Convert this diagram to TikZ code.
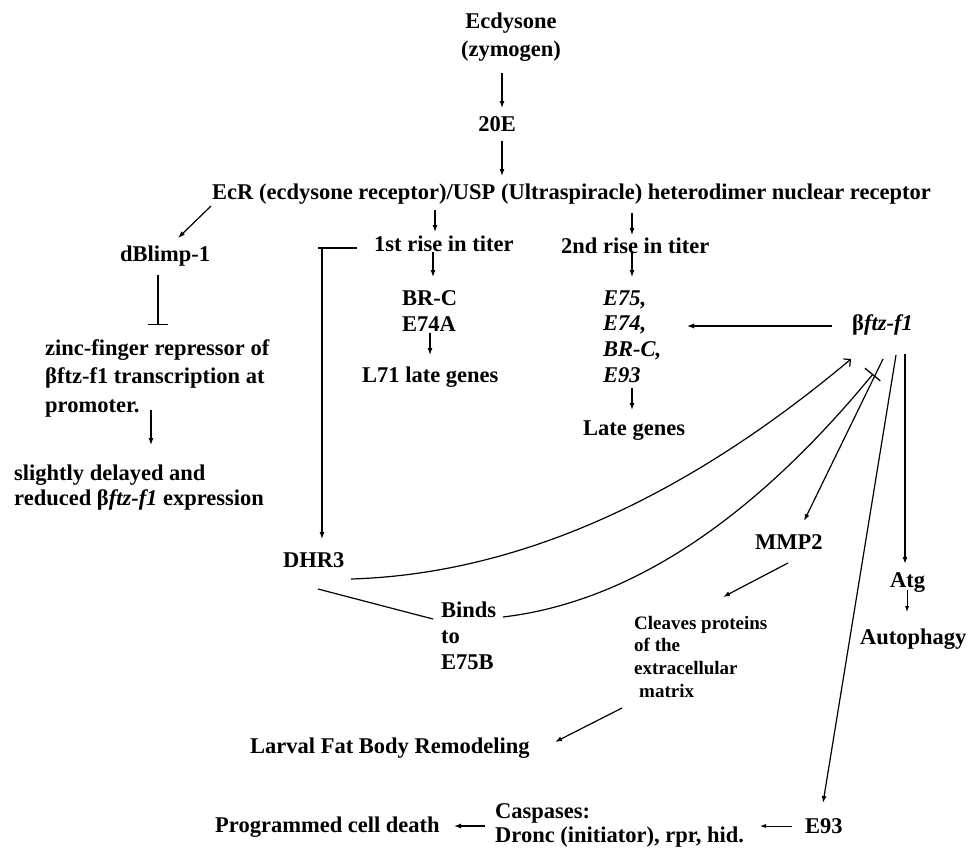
\documentclass[tikz,border=0pt]{standalone}
\usepackage{fontspec}
\setmainfont{Liberation Serif}
\usetikzlibrary{arrows.meta,calc}
\newcommand\tstrut{\rule{0pt}{16.5pt}}
\newcommand\sstrut{\rule{0pt}{14pt}}
\begin{document}
\begin{tikzpicture}[x=1pt,y=-1pt,
  lbl/.style={inner sep=0pt, anchor=base west, font=\fontsize{22.5}{27}\selectfont\bfseries},
  blk/.style={inner sep=0pt, anchor=north west, align=left},
  arr/.style={line width=1.2pt, -{Latex[length=7pt,width=5pt]}},
  thinarr/.style={line width=0.8pt, -{Latex[length=6pt,width=4pt]}},
  plain/.style={line width=1.2pt},
  inhib/.style={line width=1.3pt, -{Bar[width=20pt,line width=1.5pt]}}]
\useasboundingbox (0,0) rectangle (971,847);

% nodes
\node[inner sep=0pt, anchor=north, align=center, font=\fontsize{22.5}{27.7}\selectfont\bfseries] (ecd) at (511,11.8) {\tstrut Ecdysone\\(zymogen)};
\node[lbl, anchor=base] (e20) at (497,131.7) {20E};
\node[lbl] (ecr) at (212,199) {EcR (ecdysone receptor)/USP (Ultraspiracle) heterodimer nuclear receptor};
\node[lbl] (dbl) at (120,261) {dBlimp-1};
\node[lbl] (r1) at (374,251) {1st rise in titer};
\node[lbl] (r2) at (561,253) {2nd rise in titer};
\node[blk, font=\fontsize{22.5}{26}\selectfont\bfseries] (brc) at (402,288.5) {\tstrut BR-C\\E74A};
\node[lbl] (l71) at (362,382) {L71 late genes};
\node[blk, font=\fontsize{22.5}{28.7}\selectfont\bfseries] (zinc) at (45,338.5) {\tstrut zinc-finger repressor of\\βftz-f1 transcription at\\promoter.};
\node[blk, font=\fontsize{22.5}{25}\selectfont\bfseries] (slight) at (14,463.5) {\tstrut slightly delayed and\\reduced β\textit{ftz-f1} expression};
\node[blk, font=\fontsize{22.5}{25.7}\selectfont\bfseries\itshape] (e75) at (603,288.5) {\tstrut E75,\\E74,\\BR-C,\\E93};
\node[lbl] (late) at (583,435) {Late genes};
\node[lbl] (ftz) at (852,330) {β\textit{ftz-f1}};
\node[lbl] (dhr3) at (283,567) {DHR3};
\node[blk, font=\fontsize{22.5}{26}\selectfont\bfseries] (binds) at (441,600.5) {\tstrut Binds\\to\\E75B};
\node[lbl] (mmp2) at (755,549) {MMP2};
\node[blk, font=\fontsize{19}{22.7}\selectfont\bfseries] (cleaves) at (634,615) {\sstrut Cleaves proteins\\of the\\extracellular\\\hspace*{5pt}matrix};
\node[lbl] (atg) at (890,587) {Atg};
\node[lbl] (auto) at (860,644) {Autophagy};
\node[lbl] (larval) at (250,753) {Larval Fat Body Remodeling};
\node[lbl] (pcd) at (215,832) {Programmed cell death};
\node[blk, font=\fontsize{22.5}{24}\selectfont\bfseries] (casp) at (495,801.5) {\tstrut Caspases:\\Dronc (initiator), rpr, hid.};
\node[lbl] (e93) at (805,833) {E93};

% connectors
\draw[arr] ([shift={(-9,61.2)}]ecd.north) -- ([shift={(5,-23.7)}]e20.base);
\draw[arr] ([shift={(5,9.3)}]e20.base) -- ([shift={(290,-23)}]ecr.base west);
\draw[arr] ([shift={(-1,7)}]ecr.base west) -- ([shift={(58,-23)}]dbl.base west);
\draw[arr] ([shift={(223,11)}]ecr.base west) -- ([shift={(61,-19)}]r1.base west);
\draw[arr] ([shift={(420,14)}]ecr.base west) -- ([shift={(71,-18)}]r2.base west);
\draw[arr] ([shift={(59,1)}]r1.base west) -- ([shift={(31,-11.5)}]brc.north west);
\draw[arr] ([shift={(71,-1)}]r2.base west) -- ([shift={(29,-11.5)}]e75.north west);
\draw[arr] ([shift={(28,44.5)}]brc.north west) -- ([shift={(68,-27)}]l71.base west);
\draw[arr] ([shift={(29,99.5)}]e75.north west) -- ([shift={(49,-25)}]late.base west);
\draw[arr] ([shift={(-20,-4)}]ftz.base west) -- ([shift={(84,37.5)}]e75.north west);
\draw[inhib] ([shift={(38,14)}]dbl.base west) -- ([shift={(113,-13.5)}]zinc.north west);
\draw[arr] ([shift={(106,71.5)}]zinc.north west) -- ([shift={(137,-18.5)}]slight.north west);
\draw[plain] ([shift={(-17,-3)}]r1.base west) -- ([shift={(-56,-3)}]r1.base west);
\draw[arr] ([shift={(-52,-3)}]r1.base west) -- ([shift={(39,-28)}]dhr3.base west);
\draw[plain] ([shift={(35,22)}]dhr3.base west) -- ([shift={(-8,18.5)}]binds.north west);
\draw[line width=1.2pt, -{Straight Barb[angle=90:7pt,line width=1.2pt]}] ([shift={(68,12)}]dhr3.base west) .. controls (516,574) and (683,500) .. ([shift={(-1,29)}]ftz.base west);
\draw[line width=1.2pt, -{Bar[width=20pt,line width=1.3pt]}] ([shift={(62,16.5)}]binds.north west) .. controls (629,602) and (752,521) .. ([shift={(21,44)}]ftz.base west);
\draw[arr] ([shift={(31,29)}]ftz.base west) -- ([shift={(49,-28)}]mmp2.base west);
\draw[arr] ([shift={(44,25)}]ftz.base west) -- ([shift={(18,-30)}]e93.base west);
\draw[arr, line width=1.7pt] ([shift={(53,24)}]ftz.base west) -- ([shift={(15,-23)}]atg.base west);
\draw[arr] ([shift={(33,14)}]mmp2.base west) -- ([shift={(89,-18)}]cleaves.north west);
\draw[arr] ([shift={(-12,93)}]cleaves.north west) -- ([shift={(305,-11)}]larval.base west);
\draw[thinarr] ([shift={(17,3)}]atg.base west) -- ([shift={(47,-32)}]auto.base west);
\draw[thinarr] ([shift={(-13,-7)}]e93.base west) -- ([shift={(265,24.5)}]casp.north west);
\draw[arr] ([shift={(-10,24.5)}]casp.north west) -- ([shift={(239,-6)}]pcd.base west);
\end{tikzpicture}
\end{document}
